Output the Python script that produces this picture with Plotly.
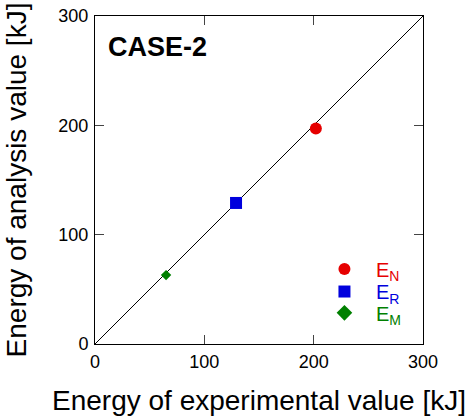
import plotly.graph_objects as go

# data
series_names = ["E<sub>N</sub>", "E<sub>R</sub>", "E<sub>M</sub>"]
exp_values = [202, 129, 65]
ana_values = [197, 129, 63]
colors = ["#e60000", "#0000dd", "#008000"]
symbols = ["circle", "square", "diamond"]
diag = [0, 300]
tick_vals = [0, 100, 200, 300]

marker_sizes = [12, 12, 8]
legend_ids = ["legend", "legend2", "legend3"]
legend_y = [0.229, 0.160, 0.095]

FONT = "Liberation Sans, Arial, sans-serif"

fig = go.Figure()
fig.add_trace(go.Scatter(x=diag, y=diag, mode="lines",
                         line=dict(color="black", width=1), showlegend=False,
                         hoverinfo="skip"))
for i in range(3):
    fig.add_trace(go.Scatter(
        x=[exp_values[i]], y=[ana_values[i]], mode="markers",
        marker=dict(color=colors[i], symbol=symbols[i], size=marker_sizes[i], line=dict(width=0)),
        name=f"<span style='color:{colors[i]}'>{series_names[i]}</span>",
        legend=legend_ids[i],
    ))

axis_common = dict(range=[0, 300], tickvals=tick_vals, ticks="inside", ticklen=9,
                   tickcolor="#444", tickwidth=1, showline=True, linecolor="black", linewidth=1,
                   mirror="ticks", showgrid=False, zeroline=False, automargin=False,
                   ticklabeloverflow="allow",
                   tickfont=dict(family=FONT, size=18, color="black"))

legend_common = dict(xanchor="left", yanchor="middle", bgcolor="rgba(0,0,0,0)",
                     font=dict(family=FONT, size=20), itemsizing="constant", itemwidth=53)

fig.update_layout(
    width=469, height=420,
    margin=dict(l=95, r=46, t=16, b=76),
    paper_bgcolor="white", plot_bgcolor="white",
    font=dict(family=FONT, color="black"),
    xaxis=dict(**axis_common, ticklabelstandoff=1,
               title=dict(text="Energy of experimental value [kJ]", font=dict(family=FONT, size=28), standoff=19)),
    yaxis=dict(**axis_common, ticklabelstandoff=2,
               title=dict(text="Energy of analysis value [kJ]", font=dict(family=FONT, size=28), standoff=23)),
    legend=dict(x=0.6645, y=legend_y[0], **legend_common),
    legend2=dict(x=0.6645, y=legend_y[1], **legend_common),
    legend3=dict(x=0.6645, y=legend_y[2], **legend_common),
    annotations=[dict(text="<b>CASE-2</b>", x=0.035, y=0.958, xref="paper", yref="paper",
                      xanchor="left", yanchor="top", showarrow=False,
                      font=dict(family=FONT, size=27, color="black"))],
)
fig.write_html("out.html", config={"displayModeBar": False},
               post_script="document.body.style.margin='0';")
